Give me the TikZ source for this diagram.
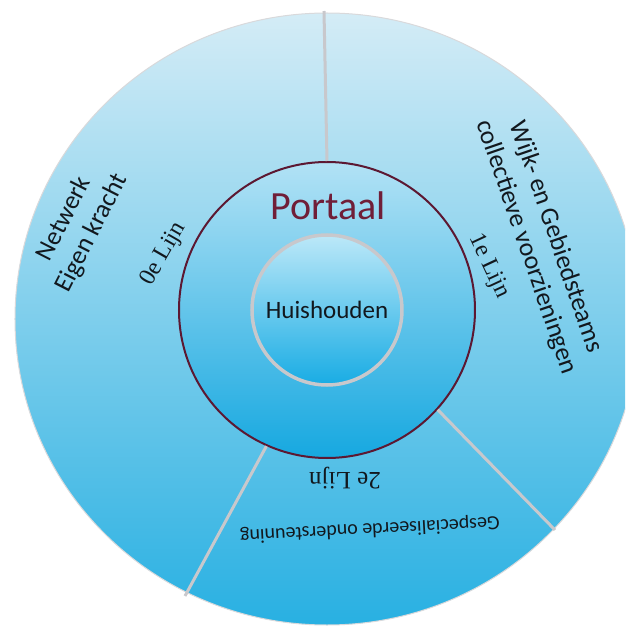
\documentclass[tikz,border=0pt]{standalone}
\usepackage{fontspec}
\setmainfont{Carlito}
\newfontfamily\lijnfont{Liberation Serif}
\usepackage{tikz}
\definecolor{buitentop}{RGB}{212,236,246}
\definecolor{buitenbodem}{RGB}{40,176,226}
\definecolor{portaaltop}{RGB}{178,226,245}
\definecolor{portaalbodem}{RGB}{22,168,224}
\definecolor{huistop}{RGB}{188,232,248}
\definecolor{huisbodem}{RGB}{24,172,228}
\definecolor{lijngrijs}{RGB}{200,200,204}
\definecolor{portaalrand}{RGB}{92,24,50}
\definecolor{portaalkleur}{RGB}{112,30,56}
\definecolor{tekstkleur}{RGB}{18,24,30}

\begin{document}
\begin{tikzpicture}[x=1pt, y=1pt,
    scheiding/.style={draw=lijngrijs, line width=3pt},
    lijnlabel/.style={text=tekstkleur, font=\lijnfont\fontsize{24}{28}\selectfont},
    ringlabel/.style={text=tekstkleur, align=center, font=\fontsize{26}{31}\selectfont}]
    \useasboundingbox (-327,-317) rectangle (298,310);
    \clip (-327,-317) rectangle (298,310);

    \shadedraw[top color=buitentop, bottom color=buitenbodem, draw=lijngrijs!70, line width=1pt]
        (0,-9) ellipse [x radius=312, y radius=306];

    \node[circle, inner sep=0pt, minimum size=296pt, draw=portaalrand, line width=2pt,
        top color=portaaltop, bottom color=portaalbodem] (portaal) at (0,0) {};
    \node[circle, inner sep=0pt, minimum size=150pt, draw=lijngrijs, line width=3.5pt,
        top color=huistop, bottom color=huisbodem, text=tekstkleur,
        font=\fontsize{25}{28}\selectfont] (huis) at (0,0) {Huishouden};

    \coordinate (boven) at (-3,299);
    \coordinate (rechtsonder) at (228,-220);
    \coordinate (linksonder) at (-142,-286);
    \draw[scheiding] (portaal.90) -- (boven);
    \draw[scheiding] (portaal.-42) -- (rechtsonder);
    \draw[scheiding] (portaal.-114) -- (linksonder);

    \node[anchor=base, text=portaalkleur, font=\fontsize{40}{44}\selectfont] (portaaltekst) at (1,91) {Portaal};

    \node[ringlabel, rotate=63] (netwerk) at (-249,84) {Netwerk\\Eigen kracht};
    \node[ringlabel, rotate=-71] (wijk) at (214,68) {Wijk- en Gebiedsteams\\collectieve voorzieningen};
    \node[ringlabel, rotate=183, font=\fontsize{20}{24}\selectfont] (gespec) at (43,-219) {Gespecialiseerde ondersteuning};

    \node[lijnlabel, rotate=60] (nul) at (-163,56) {0e Lijn};
    \node[lijnlabel, rotate=-65] (een) at (162,44) {1e Lijn};
    \node[lijnlabel, rotate=180, font=\lijnfont\fontsize{25}{28}\selectfont] (twee) at (18,-168) {2e Lijn};
\end{tikzpicture}
\end{document}
